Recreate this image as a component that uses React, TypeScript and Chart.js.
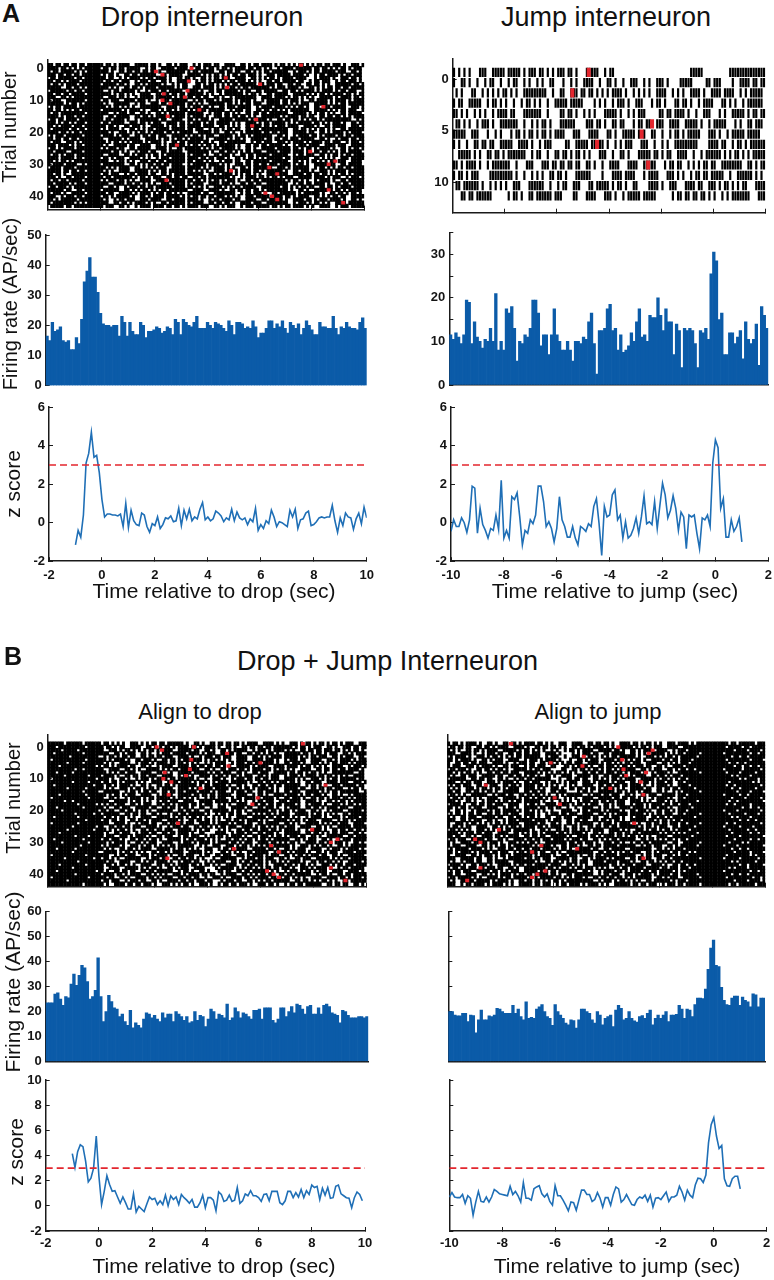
import React, { useEffect, useRef } from "react";
import { Chart, registerables } from "chart.js";

Chart.register(...registerables);

// ---------------- data ----------------
const BIN = 0.1;
const Z_THRESHOLD = 3;

const DROP_TIME_TICKS = [-2, 0, 2, 4, 6, 8, 10];
const JUMP_TIME_TICKS = [-10, -8, -6, -4, -2, 0, 2];
const Z_TICKS_A = [-2, 0, 2, 4, 6];
const Z_TICKS_B = [-2, 0, 2, 4, 6, 8, 10];
const RATE_TICKS_DROP_A = [0, 10, 20, 30, 40, 50];
const RATE_TICKS_JUMP_A = [0, 5, 10, 15, 20, 25, 30, 35];
const RATE_TICKS_B = [0, 10, 20, 30, 40, 50, 60];
const TRIAL_TICKS_DROP = [0, 10, 20, 30, 40];
const TRIAL_TICKS_JUMP = [0, 5, 10];

// firing-rate histograms, 0.1 s bins
const RATE_DROP_A = [
  16.5, 15, 21, 18, 18.5, 19.5, 15, 14.5, 15, 12,
  12, 16, 14, 22, 34.5, 38, 42.5, 36, 36, 31,
  24, 20.5, 20, 20, 19.5, 20, 20, 16.5, 23, 21,
  16.5, 21, 18, 17, 17, 21, 20, 16, 18, 18,
  18.5, 19.5, 19, 17.5, 18, 19.5, 19, 17, 22, 21,
  17, 22, 21, 20, 19.5, 21, 23, 19, 19, 19,
  21, 20, 19, 21, 20.5, 20, 19, 18, 21.5, 20,
  17, 21, 21, 20.5, 19, 19.5, 19, 21.5, 19.5, 16,
  17.5, 17.5, 19, 21.5, 21.5, 19, 20.5, 19.5, 21.5, 19,
  17.5, 21, 20, 19, 20.5, 17, 19, 21.5, 20, 18.5,
  17, 17, 21, 19.5, 19.5, 19, 19, 23, 19, 17,
  19.5, 19, 21, 19.5, 19, 19, 18.5, 21, 22.5, 19,
];
const RATE_JUMP_A = [
  11.5, 10.5, 12, 11, 9.5, 11.5, 19.5, 19, 9.5, 14.5,
  11, 10, 8.5, 10.5, 10, 13, 10, 21, 8, 10,
  8, 17.5, 16.5, 18, 13, 5.5, 10, 9.5, 11.5, 11,
  13, 19.5, 19.5, 16.5, 9, 11.5, 11.5, 7, 11.5, 17.5,
  11.5, 10, 8, 8, 10, 8, 5.5, 10, 10, 9.5,
  11, 10.5, 14.5, 16.5, 9.5, 2.5, 12.5, 12.5, 13, 17.5,
  18.5, 12.5, 13, 8, 11.5, 7.5, 8, 9, 12, 10,
  14.5, 17.5, 11, 11.5, 10, 16, 15.5, 15.5, 20, 16,
  12.5, 17.5, 14.5, 14.5, 7, 14, 12.5, 4, 13, 12.5,
  13, 12.5, 9.5, 4, 12.5, 12, 13, 10.5, 25.5, 30.5,
  28.5, 15, 16.5, 7, 7, 12, 12, 9.5, 11, 12.5,
  6, 14.5, 10.5, 9.5, 10.5, 14, 4.5, 18, 16, 13,
];
const RATE_DROP_B = [
  23.5, 23.5, 23.5, 27, 27.5, 25, 22.5, 26, 25.5, 31,
  35, 30.5, 34.5, 38.5, 37.5, 32, 25, 26, 28.5, 41.5,
  26, 16, 20, 26.5, 24, 21.5, 21, 18, 19, 16,
  14.5, 20.5, 13.5, 15.5, 14.5, 13.5, 17, 19.5, 19, 17.5,
  18.5, 17, 16, 19.5, 17.5, 19, 19, 16, 20, 19,
  18, 16.5, 18, 15.5, 16, 20, 16.5, 18.5, 18, 14,
  17, 21, 20, 17, 19, 18.5, 17.5, 23, 16.5, 17.5,
  21.5, 20, 17.5, 19.5, 19, 18, 17, 20.5, 20.5, 21,
  17, 21.5, 21.5, 21.5, 16.5, 15.5, 17, 21.5, 21.5, 18,
  20, 22, 19.5, 23, 22.5, 21, 19, 22, 22.5, 19,
  19, 21.5, 19, 22.5, 23, 22, 19.5, 19, 18.5, 15.5,
  20.5, 20, 18.5, 17.5, 17.5, 17.5, 18, 18, 17.5, 18,
];
const RATE_JUMP_B = [
  20, 20, 18.6, 18.3, 18.3, 19.3, 19.3, 16, 18.6, 18.4,
  11.5, 16.7, 20.6, 16.7, 16.7, 18.3, 18, 18.6, 21.3, 21,
  20, 19.3, 19.3, 19.3, 22.5, 19.3, 21, 18, 16.7, 23.9,
  17.3, 17.7, 17.3, 21, 21.9, 22.8, 20, 18, 17.3, 14.5,
  22.8, 20, 18.6, 17.3, 15.4, 14.7, 16.7, 16.4, 13.4, 16.7,
  21, 21, 20, 19.3, 16.7, 15.4, 20, 18.6, 14.7, 17.3,
  18, 18.6, 14, 20.6, 22.5, 21.3, 16.7, 17.3, 20, 17.3,
  16.3, 15.8, 18, 18.4, 17.3, 19.3, 20.6, 14.7, 17.3, 18.6,
  17.3, 18.6, 20, 16, 18.6, 18.6, 18.9, 22.5, 21, 17.3,
  21, 20.6, 18, 22.8, 25.4, 25.4, 25.2, 29, 36.9, 45.4,
  48.6, 38.5, 38, 29.7, 24.5, 22.8, 22.5, 25.4, 26.2, 26.2,
  22.5, 25.8, 24.5, 23.9, 21.9, 27.1, 26.7, 21.9, 25.4, 25.4,
];

// z scores, 0.1 s steps
const Z_DROP_A_START = -1.0;
const Z_DROP_A = [
  -1.15, -0.4, -0.75, 0.4, 3.1, 3.6, 4.7, 3.4, 3.5, 2.6, 1.2,
  0.3, 0.45, 0.45, 0.4, 0.4, 0.35, 0.45, -0.2, 1.0, -0.25,
  0.65, 0.1, -0.1, -0.15, 0.5, 0.4, -0.2, -0.5, -0.05, -0.15,
  0.3, -0.3, -0.1, 0.25, 0.2, 0.35, 0.05, 0.1, 0.75, -0.15,
  0.65, 0.2, 0.7, 0.1, 0.3, 0.2, 0.7, 1.05, 0.15, 0.3,
  0.1, 0.2, 0.6, 0.5, 0.35, 0.05, 0.25, 0.15, 0.7, 0.1,
  0.55, 0.25, 0.15, 0.25, -0.1, 0.2, 0.05, 0.75, -0.4, -0.1,
  -0.3, 0.1, -0.05, 0.65, 0.3, -0.2, 0.05, 0.0, -0.1, -0.2,
  0.65, 0.3, 0.7, -0.3, 0.15, 0.2, 0.5, 0.6, -0.15, -0.1,
  0.05, 0.25, 0.3, 0.25, 0.3, 0.3, 0.9, 0.1, -0.5, 0.25,
  -0.15, 0.5, 0.3, 0.25, -0.35, 0.2, 0.5, -0.05, 0.8, 0.25,
];
const Z_JUMP_A_START = -10.0;
const Z_JUMP_A = [
  -0.45, 0.15, -0.2, -0.2, 0.25, 0, -0.5, 0.15, 1.9, 1.8,
  -0.55, 0.75, -0.1, -0.4, -0.8, -0.3, -0.4, 0.4, -0.35, 2.2,
  -0.8, -0.4, -0.8, 1.35, 1.2, 1.55, 0.3, -1.15, -0.4, -0.55,
  0.15, -0.05, 0.4, 1.9, 1.9, 1.1, -0.2, 0.05, -0.3, -1.0,
  -0.3, 1.35, 0.15, -0.2, -0.75, -0.75, -0.2, -0.8, -1.15, -0.2,
  -0.3, -0.45, -0.05, -0.2, 0.85, 1.25, -0.05, -1.7, 0.85, 0.3,
  0.4, 1.45, 1.7, 0.15, 0.4, -0.8, 0.05, -0.8, -0.65, -0.3,
  0.25, -0.55, 0.3, 1.4, -0.05, 0.05, -0.1, 1.1, -0.3, 0.9,
  2.05, 1.45, 0.25, 0.65, 1.4, 0.75, -0.4, 0.55, 0.3, -1.35,
  0.4, 0.3, 0.4, -0.55, -1.35, 0.25, 0.15, 0.4, -0.2, 3.1,
  4.3, 3.9, 0.75, 1.25, -0.75, -0.75, 0.15, -0.45, -0.2, 0.25, -1.0,
];
const Z_DROP_B_START = -1.0;
const Z_DROP_B = [
  4.15, 3.05, 4.3, 4.85, 4.7, 3.55, 1.9, 2.2, 3.0, 5.55, 2.35,
  0.1, 1.15, 2.4, 1.7, 1.15, 1.2, 0.7, 0.2, 0.7, 0.25,
  -0.25, -0.25, 0.95, -0.5, -0.05, -0.25, -0.45, 0.15, 0.7, 0.5,
  0.6, 0.1, 0.4, 0.1, 0.85, 0, 0.8, 0.5, 0.7, 0.1,
  0.9, 0.65, 0.45, 0.2, 0.5, -0.1, -0.1, 0.25, 0.85, -0.15,
  0.65, 0.65, 0.45, -0.4, 1.1, 0.9, 0.35, 0.45, 0.85, 0.35,
  0.45, 1.45, 0.2, 0.4, 0.95, 0.8, 1.2, 0.8, 0.8, 0.65,
  0.35, 0.9, 0.95, 0.4, 1.15, 1.15, 1.15, 0.25, 0.1, 0.4,
  1.15, 1.15, 0.65, 1.05, 0.7, 1.3, 0.65, 1.2, 0.9, 1.65,
  1.45, 1.55, 0.5, 1.4, 0.85, 1.45, 0.6, 0.65, 1.55, 1.65,
  0.95, 0.8, 0.65, 0.6, -0.15, 0.65, 1.1, 0.9, 0.4,
];
const Z_JUMP_B_START = -10.0;
const Z_JUMP_B = [
  0.7, 1.05, 0.7, 0.65, 0.65, 0.9, 0.2, 0.8, 0.6, -0.75,
  0.3, 1.15, 0.35, 0.3, 0.7, 0.3, 0.7, 1.3, 1.15, 0.95,
  0.9, 0.85, 0.8, 1.55, 0.9, 1.15, 0.8, 0.3, 1.85, 0.6,
  0.6, 0.45, 1.35, 1.5, 1.6, 0.95, 0.7, 0.95, 0.35, 0.05,
  1.6, 0.8, 0.8, 0.45, 0.05, -0.4, 0.3, 0.25, -0.35, 0.45,
  1.25, 1.25, 0.9, 0.9, 0.35, 0.5, 1.05, 0.6, -0.1, 0.65,
  0.65, 0.05, 0.9, 1.5, 1.35, 0.3, 0.5, 0.9, 0.5, 0.1,
  0.05, 0.5, 0.7, 0.6, 0.85, 0.35, 0.85, -0.1, 0.6, 0.65,
  0.5, 0.8, 1.1, 0.35, 0.7, 0.7, 0.85, 1.55, 1.1, 0.45,
  1.25, 0.85, 0.65, 1.65, 2.2, 2.15, 1.85, 2.45, 5.0, 6.45,
  7.0, 5.55, 4.55, 4.8, 2.15, 1.6, 1.55, 2.15, 2.35, 2.35, 1.35,
];

// spike rasters: one hex string per trial, each hex digit = four 0.1 s bins
const RASTER_DROP_A_FIRST = -1;
const RASTER_DROP_A = [
  "DB6DFB5E7DA6B95D9E6B7AD5AB6E9D", "F6ABF6DBE59F7AD6B5EDA97BF6D5AE", "B7D5FE9B6DA7F5BE6D9AB7E5D6FB9A",
  "EDB7F5A6DF9BE7D5AB6E9DF7A5BD6E", "6FDBFD95EB7A6D35B9E6AD7BC5E9DA", "DAF7FB6E5D9A7CB5D6EA9B7D96E5BA",
  "B5EFF7DA6BE958D6AB7E5D9B36A7ED", "F9B5FEA6D7BF59DEA6B7F5DE9AB6DF", "7EDBF96FA5DBE7A6DF59BE6D7AF5B9",
  "DB7DFF5A9E6DB7EA5FD69BE7D5AF6B", "E6BFF9DA5F7EB6D9A5FE7BD6A9F5ED", "B9FDF6E7BA5DF96EBD7A5F6E9BD7AF",
  "FD6BFA7E59DBF6A7ED5B9F6AE7D5BF", "5BEFFD6A9FE7B5DA6EF97BD5A6EF9D", "DAB7F7F5E9D6BAF7E5D9B6AFE7D5B9",
  "B7FDFE5D9A6BF7E5DA9B6FE7D5A9BE", "F5DBF9BE6D7AF5E9DB6A7F5ED9B6AF", "6DEFFB7A5FD9E6BA7DF5E9B6AD7FE5",
  "EB5DF6F9DAE7B5D6FA9EB7D5F6AE9B", "D7BBFDA6E9F5B7DE6A9FB5DE7A6F9D", "BF6DF5E9AB7DF6E5AD9B7FE6D5A9BF",
  "F6B7FE9D5AF6BE7D9A5FB6E7D9AF5E", "5DFBF7AE6DB9F5AE7D6BF9A5ED7B6F", "DB6FF9F5E7AD6BE9F5A7DB6EF9A5DB",
  "B9D7FD6AF5E9B7DA6FE5B9D7AF6E5D", "EF5BFA7D9E6BF5AD7E9B6FA5DE7B9F", "6BDFF5D9BE7A6FD5BE9A7DF6B5E9AD",
  "DE7BFF6A5D9BE7FA6D5B9EF7A6D5BE", "B5DFF9E6BAD7F5E9BA6DF7E5B9AD6F", "F7DBF6B9EA5DF7B6E9AD5FB7E6A9DF",
  "D6BFFE5A9DB7F6EA5D9BF7E6AD5B9E", "BDE5F7F9AB6DE5F7A9DB6EF5A7D9BE", "7BDFFD5E6AB9F7D5EA6BF9D7E5AB6F",
  "FB6DFA9E7D5BF6A9ED7B5FA6E9D7BF", "DA7FF6E5BD9AF7E6BD5A9FE7B6D5AF", "E9BDFB7F5AE6D9B7FA5ED6B9F7AE5D",
  "B6FBF5DA9E7BF6D5AE9B7FD6A5E9BF", "DF5DFE7B6A9DF5E7BA6D9FE5B7A6DF", "6EBFF9A5DB7EF6A9D5BE7F6AD9B5EF",
  "FD9BF7E6AD5BF9E7A6DB5FE9A7D6BE", "BA7DFD9F5EB6A7D9FE5BA6FD7E9B5A", "E5DBF6BE9AF7D5B6EA9DF7B5E6AD9F",
  "D7EFFA5B9DE6F7A5BD9E6FA7B5DE9A", "BFD5FE6D7A9BF5E6DA7B9FE5D6A7BF", "7DBFFB9A5EF6D7B9AE5DF6B7A9E5DF",
];
const RASTER_JUMP_A_FIRST = 0;
const RASTER_JUMP_A = [
  "AA39F7D76AED1F2C0000001F003FFF", "9A4B2594A6253C9A4E53A1F06E13DB", "51955A9FF2676D57A553CA9E9EF2BE",
  "B3E5A92D49F7C2A5D38B46D2F1A97E", "D4A97B1FC86D2A3E95C1B7A4E29F5B", "6A5D3F92B47E1DA6C5B39E7D2F8A6E",
  "F9C4A2D6B5E38F1A7D4C96BE3A5F7C", "A4DB3E7A5C19F6D2B8E4A7FC3D96BF", "3EA6D7F2C9B5A8E4D1F6B3C97EAD5F",
  "D7A5FC8E3B6D9A4F1E7C5B2AD9FE6B", "B5C3FE92A6D1F847BC5E3A96DF27EA", "6FD2A9C7E4B38DF5A61E9C7B3AD58F",
  "1B7E05A6FDC31E3A5F7C0B6DA95FC7",
];
const RASTER_DROP_B_FIRST = -1;
const RASTER_DROP_B = [
  "FDFBF6A9D5B7E9A6DB5E7A9D6B5AE7", "EFFDFB59E6AD7B5E9A6DB7F5AE69DB", "FBEFF9D6AB5E7D9A6BE5D7A9B6ED5A",
  "DFFBFE6B9A5DF7AE6D9B5A7ED6B9AF", "FF7FE5AD9B6E7A5DB9E6AF7D5B9AE6", "BFFDFD7A6E9B5FD6A9E7BA5D9E6BD7",
  "FEFBFA9E5D7B6A95E5DB7A6E9D5BAF", "F7FFD6BD9A5E7B6DA9F5E7BD6A9E5D", "FFDBF9E6A7D5BF9A6ED7B5A9E6DB7A",
  "EFBFFD5B9E6A7DF5B9A6E7DB5A9FE6", "FDFEF7A6DB9E5A7AD6B9AE5D7B6A9E", "BFFFDE9A5D6B7E93A5DB6E7A9D5BF6",
  "FFBEF6D7A9E5BD6AF7E9B5DA6E7B9D", "DFFFBB5E9A6D7F5BE9A6DB7E5A9DF6", "FEFDFA9D6B5E7A9DF6B5EA7D9B6E5A",
  "FFFBE7E5AD9B6F7AE5D9BA6E7D5BF9", "F7FDFD6B9E5A7DB6F9E5A7BD6E9A5F", "BFFEF9A5EB7D6A96E5BD7A6E9B5DAF",
  "FDBFFE7D6A5B9E7DF6A5B9DE7A6B5F", "FFEFD5B9AE6D7B5CA9E6DB7A5E9D6B", "EFFBFA6E7D9B5A64E7D9BA5E6D7B9F",
  "FBFFED9B5A7E6D9BF5A7ED6B9A5E7D", "FFDFB7E6D9A5B7E96D9AB5E7D6A9BF", "DFEFFB5A9E7D6B52A9E7DB6A5E9D7B",
  "FFFDF6D9B5E7A6DA9B5EA7D6B9E5AF", "BFEFFE7A5D9B6E7AF5D9BE6A7D5B9E", "FFBFD9B6E7A5D9B56E7AD5B9E6A7DF",
  "FEFFBD5A9B6E7D58A9B6ED7A5E9B6D", "F7FFFA6E5D9B7A61E5D9BA7E6D5B9A", "FFDEFB9D7A6E5B96D7A6EB5D9A7E6F",
  "DFFBF6E9B5A7D6EA9B5AD7E6B9A5DF", "FBFEFD7A6B9E5D7AF6B9ED5A7B6E9A", "FFF7F5E9D6AB7E539D6AB7E9D5A6BF",
  "EFDFFA9B5E7D6A9CB5E7DA6B9E5D7A", "FFBFE7D6A9B5E7D46A9BE5D7A6B9EF", "BFFDFE5B9D7A6E59B9D7AE6B5D9A7E",
  "FDFFB6A7E5D9B6A27E5DB9A6E7D5BF", "FFEFFD9E6B7A5D95E6B7AD5E9B6A7D", "F7FDFB5A9E6D7B5A9E6DA7B5A9D6EF",
  "FFBFF9E7D5A6B9E17D5AB6E9D7A5BE", "EFFFDA6D9B7E5A68D9B7EA5D6B9E7A", "FFDFF7B5E6A9D7B65E6AD9B7E5A6DF",
  "BFFEFD9A7B5E6D93A7B5ED6A9E7B5D", "FEFFF6E5D9A7B6EC5D9AB7E6D5A9BF", "FFFBFA7B6E9D5A74B6E9DA5B7E6D9A",
];
const RASTER_JUMP_B_FIRST = -1;
const RASTER_JUMP_B = [
  "B5E9A6D7B539E6DA7B5A9DEBFFDBF7", "6D9B5E7A6DA9B5EA7D6B9E7FFFBEDF", "A9B5E7D6A94B5E7DA6B9E5DFFFF7BD",
  "E7A5D9B6E7A15D9BE6A7D5BEFF7FDB", "5E9D6AB7E5C9D6AB7E9D5AFDFFEDBF", "D7A6B9E5D7A26B9ED5A7B6F7FFBFDE",
  "9B6E7A5D9B56E7AD5B9E6AEFFFDB7F", "B9D7A6E5B98D7A6EB5D9A7BFFFF6DB", "6E9B5A7D6E19B5AD7E6B9ADBFF7EFD",
  "D5A9B6E7D56A9B6ED7A5E9FEFFBDF7", "A6E7D9B5A69E7D9BA5E6D77FFFEBDF", "7E6D9A5B7E26D9AB5E7D6ADFFFFD7B",
  "E5B9D7A6E5AB9D7AE6B5D9BFFFDFEB", "5B9AE6D7B54A9E6DB7A5E9EFFFB7FD", "A9D6B5E7A9D36B5EA7D9B6FBFFEDF7",
  "D9B5A7E6D9B85A7ED6B9A57EFFFBDE", "6A7E5D9B6A57E5DB9A6E7DDFFF7DBF", "B5A9E7D6B5CA9E7DB6A5E9BFFFEF7D",
  "E9A5D6B7E92A5DB6E7A9D5FDFFDBFE", "7A6DB9E5A79D6B9AE5D7B6EFFFB7DF", "D6B9E5A7DB649E5A7BD6E9F7FFFEDB",
  "9A5EB7D6A91E5BD7A6E9B5DFFF7BFD", "5AD9B6E7A5DB9E6AF7D5B9BEFFDF7B", "A6E7D9B5A66E7D9BA5E6D7FBFFEBDF",
  "E6B9A5DF7AE6D9B5A7ED6B7FFFFDB7", "9D6AB5E7D9A6BE5D7A9B6EDEFFB7FD", "B59E6AD7B5E9A6DB7F5AE6FBFF7DEF",
  "6A9D5B7E9A6DB5E7A9D6B5EFFFDFB7", "F5DB9E6AD7B5E9A6DB7F5ABDFFEFDB", "D9A7B5E6D9FA7B5ED6A9E7F7FFBDFE",
  "6E5D9A7B6EF5D9AB7E6D5ADFFFF7DB", "A7B6E9D5A7FB6E9DA5B7E67EFFDEBF", "B9E6AD7F5E9BA6DF7E5B9AFDFF7BFE",
  "5F7A9DB6EF5A7D9BE7F9ABBFFFEDBF", "D7AF6E5BD9A7FE6D5B9AF6EBFFF7DE", "9E6BAD7F5E9BA6DF7E5B9ADFFFBFD7",
  "E7D9A5FB6E7D9AF5E6D9B7FEFF7DFB", "A5D9BE7FA6D5B9EF7A6D5B7FFFEBF7", "7A6E9F5B7DE6A9FB5DE7A6DBFFFDBE",
  "B6E5D9A7FB5D6EA9B7DF6EEFFFD7BF", "5B9F6AE7D5BF9A5ED7B6FABFFF7FDB", "D9E6AF5B7DA6FE5B9D7AF6FDFFEDBF",
  "6FA9EB7D5F6AE9B6D5F9AE7EFFBFED", "A7DF5E9B6AD7FE5D6A9BF5DFFFF7BD", "E5BD7A9F6E5BD7A9FB6E5DBEFFDBF7",
];

// first-spike (red) markers: [time s, trial]
const RED_DROP_A = [
  [2.1, 1], [2.35, 2], [3.45, 0], [7.6, -1], [4.75, 3], [3.35, 4], [6.05, 5], [4.8, 6], [3.3, 7], [2.4, 8],
  [3.2, 9], [2.35, 10], [2.65, 11], [8.45, 12], [3.75, 13], [2.55, 15], [5.9, 16], [5.75, 18], [2.9, 24],
  [7.95, 26], [8.9, 29], [8.65, 30], [6.4, 31], [4.95, 32], [6.7, 33], [2.5, 35], [8.65, 38], [6.25, 39],
  [6.5, 40], [6.7, 41], [9.2, 42],
];
const RED_DROP_B = [
  [2.1, 0], [2.3, 1], [3.5, 0], [7.6, -1], [4.75, 2], [3.4, 4], [6.0, 5], [4.8, 6], [3.35, 7], [2.4, 8],
  [3.2, 9], [2.35, 10], [2.65, 11], [8.45, 12], [3.75, 13], [2.55, 15], [5.9, 16], [5.7, 18], [2.9, 24],
  [7.95, 26], [8.9, 29], [8.65, 30], [6.4, 31], [5.0, 32], [6.7, 33], [2.5, 35], [8.65, 38], [6.25, 39],
  [6.5, 40], [6.7, 41], [9.2, 42],
];
const RED_JUMP_A = [[-4.78, 0], [-5.41, 2], [-2.35, 5], [-2.75, 6], [-4.46, 7], [-2.5, 9]];
const RED_JUMP_B = [
  [-7.6, -1], [-3.55, 0], [-2.25, 1], [-2.4, 2], [-4.85, 3], [-3.4, 4], [-6.1, 5], [-4.9, 6], [-3.35, 7],
  [-2.5, 8], [-3.25, 9], [-2.7, 11], [-8.55, 12], [-3.85, 13], [-2.6, 15], [-5.95, 16], [-5.75, 18],
  [-2.95, 24], [-8.05, 26], [-8.95, 29], [-8.75, 30], [-6.45, 31], [-5.1, 32], [-6.8, 33], [-2.6, 35],
  [-8.75, 38], [-6.3, 39], [-6.6, 40], [-6.8, 41], [-9.25, 42],
];

// ---------------- styling ----------------
const FONT = "'Liberation Sans', Arial, Helvetica, sans-serif";
const BAR_BLUE = "#0b5ba8";
const LINE_BLUE = "#1f6fb6";
const RED = "#e3262e";
const AXIS = "#1a1a1a";
const JUMP_ROW_LABEL_SHIFT = 0.65;

function rasterPoints(rows: string[], first: number, t0: number) {
  const pts: { x: number; y: number }[] = [];
  rows.forEach((row, r) => {
    for (let c = 0; c < row.length; c++) {
      const v = parseInt(row[c], 16);
      for (let b = 0; b < 4; b++) {
        if (v & (8 >> b)) pts.push({ x: t0 + (c * 4 + b + 0.5) * BIN, y: first + r });
      }
    }
  });
  return pts;
}
const pairs = (list: number[][]) => list.map(([x, y]) => ({ x, y }));
const series = (vals: number[], t0: number) =>
  vals.map((y, i) => ({ x: Math.round((t0 + i * BIN) * 1000) / 1000, y }));

function linAxis(o: any) {
  return {
    type: "linear",
    min: o.min,
    max: o.max,
    reverse: !!o.reverse,
    afterBuildTicks: (s: any) => {
      s.ticks = o.ticks.map((v: number) => ({ value: v }));
    },
    ticks: {
      display: !!o.label,
      callback: (v: any) => (o.label ? o.label(Number(v)) : ""),
      font: { family: FONT, size: 13, weight: "bold" },
      color: "#141414",
      padding: o.pad ?? 8,
      autoSkip: false,
      maxRotation: 0,
      minRotation: 0,
    },
    grid: {
      display: o.marks !== false,
      drawOnChartArea: false,
      drawTicks: true,
      tickLength: -4,
      color: AXIS,
      lineWidth: 1,
    },
    border: { display: o.border !== false, color: AXIS, width: 1.5 },
  };
}
function catAxis(border: boolean) {
  return {
    type: "category",
    offset: true,
    ticks: { display: false },
    grid: { display: false },
    border: { display: border, color: AXIS, width: 1.5 },
  };
}

function rasterChart(p: any) {
  const r = p.rowPx / 2;
  return {
    type: "scatter",
    data: {
      datasets: [
        {
          data: pairs(p.red),
          pointStyle: "line",
          pointRotation: 90,
          pointRadius: p.redPx / 2,
          pointHoverRadius: p.redPx / 2,
          pointBorderWidth: p.redW,
          pointBorderColor: RED,
          pointBackgroundColor: RED,
        },
        {
          data: rasterPoints(p.rows, p.first, p.t0),
          pointStyle: "line",
          pointRotation: 90,
          pointRadius: r,
          pointHoverRadius: r,
          pointBorderWidth: p.binPx,
          pointBorderColor: "#000",
          pointBackgroundColor: "#000",
        },
      ],
    },
    options: {
      scales: {
        x: linAxis({ min: p.xMin, max: p.xMax, ticks: p.xTicks }),
        y: linAxis({
          min: p.yMin,
          max: p.yMax,
          reverse: true,
          ticks: p.yTicks,
          label: p.yLabel,
          marks: p.yMarks,
        }),
      },
    },
  };
}

function histChart(vals: number[], t0: number, yMax: number, yTicks: number[], yLabel: any, baseline: boolean) {
  return {
    type: "bar",
    data: {
      labels: vals.map((_, i) => (t0 + i * BIN).toFixed(1)),
      datasets: [
        {
          data: vals,
          backgroundColor: BAR_BLUE,
          borderWidth: 0,
          barPercentage: 1,
          categoryPercentage: 1,
        },
      ],
    },
    options: {
      scales: {
        x: catAxis(baseline),
        y: linAxis({ min: 0, max: yMax, ticks: yTicks, label: yLabel }),
      },
    },
  };
}

function zChart(vals: number[], start: number, xMin: number, xMax: number, xTicks: number[], yMax: number, yTicks: number[], yLabel: any, xPad: number) {
  return {
    type: "scatter",
    data: {
      datasets: [
        {
          data: [
            { x: xMin, y: Z_THRESHOLD },
            { x: xMax, y: Z_THRESHOLD },
          ],
          showLine: true,
          borderColor: RED,
          borderWidth: 1.6,
          borderDash: [7, 4],
          pointRadius: 0,
          pointHoverRadius: 0,
        },
        {
          data: series(vals, start),
          showLine: true,
          borderColor: LINE_BLUE,
          borderWidth: 1.6,
          pointRadius: 0,
          pointHoverRadius: 0,
          tension: 0,
        },
      ],
    },
    options: {
      scales: {
        x: linAxis({ min: xMin, max: xMax, ticks: xTicks, label: String, pad: xPad }),
        y: linAxis({ min: -2, max: yMax, ticks: yTicks, label: yLabel }),
      },
    },
  };
}

type Geo = { l: number; t: number; r: number; b: number };

function Panel({ geo, make, ml = 44, mr = 14, mt = 10, mb = 12 }: { geo: Geo; make: () => any; ml?: number; mr?: number; mt?: number; mb?: number }) {
  const ref = useRef<HTMLCanvasElement | null>(null);
  const left = Math.floor(geo.l) - ml;
  const top = Math.floor(geo.t) - mt;
  const width = Math.min(774, Math.ceil(geo.r) + mr) - left;
  const height = Math.ceil(geo.b) + mb - top;
  useEffect(() => {
    const cfg = make();
    cfg.options = cfg.options || {};
    Object.assign(cfg.options, {
      animation: false,
      responsive: false,
      devicePixelRatio: 1,
      events: [],
      plugins: { legend: { display: false }, tooltip: { enabled: false } },
      layout: { padding: { left: 0, top: geo.t - top, right: left + width - geo.r, bottom: 0 } },
    });
    cfg.options.scales.x.afterFit = (s: any) => {
      s.height = top + height - geo.b;
      s.paddingLeft = 0;
      s.paddingRight = 0;
    };
    cfg.options.scales.y.afterFit = (s: any) => {
      s.width = geo.l - left;
      s.paddingTop = 0;
      s.paddingBottom = 0;
    };
    const chart = new Chart(ref.current as HTMLCanvasElement, cfg);
    return () => chart.destroy();
  }, []);
  return (
    <canvas
      ref={ref}
      width={width}
      height={height}
      style={{ position: "absolute", left, top, width, height }}
    />
  );
}

function HText({ text, cx, base, size, bold = false, sx = 1, align = "center" }: any) {
  const tr = align === "center" ? `translateX(-50%) scaleX(${sx})` : `scaleX(${sx})`;
  return (
    <div
      style={{
        position: "absolute",
        left: cx,
        top: base - 0.8465 * size,
        transform: tr,
        transformOrigin: align === "center" ? "center" : "left",
        fontFamily: FONT,
        fontSize: size,
        fontWeight: bold ? 700 : 400,
        lineHeight: 1,
        whiteSpace: "nowrap",
        color: "#111",
      }}
    >
      {text}
    </div>
  );
}
function VText({ text, cx, cy, size }: any) {
  return (
    <div
      style={{
        position: "absolute",
        left: cx,
        top: cy,
        transform: "translate(-50%,-50%) rotate(-90deg)",
        fontFamily: FONT,
        fontSize: size,
        lineHeight: 1,
        whiteSpace: "nowrap",
        color: "#111",
      }}
    >
      {text}
    </div>
  );
}

const str = (v: number) => String(v);

export default function App() {
  return (
    <div style={{ position: "absolute", left: 0, top: 0, width: 774, height: 1280, background: "#fff", overflow: "hidden" }}>
      {/* ---- A left ---- */}
      <Panel
        geo={{ l: 47.7, t: 60, r: 364.3, b: 209.5 }}
        make={() =>
          rasterChart({
            rows: RASTER_DROP_A, first: RASTER_DROP_A_FIRST, t0: -2, red: RED_DROP_A,
            xMin: -2, xMax: 10, xTicks: DROP_TIME_TICKS,
            yMin: -2.59, yMax: 44.12, yTicks: TRIAL_TICKS_DROP, yLabel: str,
            rowPx: 4.4, binPx: 3.0, redW: 4, redPx: 3.4,
          })
        }
      />
      <Panel geo={{ l: 45.7, t: 235, r: 366.7, b: 385.7 }} make={() => histChart(RATE_DROP_A, -2, 50, RATE_TICKS_DROP_A, str, false)} />
      <Panel
        geo={{ l: 49, t: 407.2, r: 366.7, b: 561.2 }}
        mb={30}
        make={() => zChart(Z_DROP_A, Z_DROP_A_START, -2, 10, DROP_TIME_TICKS, 6, Z_TICKS_A, str, 10)}
      />
      {/* ---- A right ---- */}
      <Panel
        geo={{ l: 452.7, t: 58.3, r: 768.3, b: 212.7 }}
        mr={5}
        make={() =>
          rasterChart({
            rows: RASTER_JUMP_A, first: RASTER_JUMP_A_FIRST, t0: -10, red: RED_JUMP_A,
            xMin: -10, xMax: 2, xTicks: JUMP_TIME_TICKS,
            yMin: -1.36, yMax: 13.63,
            yTicks: TRIAL_TICKS_JUMP.map((v) => v + JUMP_ROW_LABEL_SHIFT),
            yLabel: (v: number) => String(Math.round(v - JUMP_ROW_LABEL_SHIFT)),
            rowPx: 9.2, binPx: 2.2, redW: 4, redPx: 9.2,
          })
        }
      />
      <Panel
        geo={{ l: 449.3, t: 232.5, r: 768.3, b: 385 }}
        mr={5}
        make={() => histChart(RATE_JUMP_A, -10, 35, RATE_TICKS_JUMP_A, (v: number) => (v % 10 === 0 ? String(v) : ""), true)}
      />
      <Panel
        geo={{ l: 451, t: 407.2, r: 768.3, b: 561.2 }}
        mr={5}
        mb={30}
        make={() => zChart(Z_JUMP_A, Z_JUMP_A_START, -10, 2, JUMP_TIME_TICKS, 6, Z_TICKS_A, str, 10)}
      />
      {/* ---- B left ---- */}
      <Panel
        geo={{ l: 47.7, t: 735, r: 366.7, b: 886.7 }}
        make={() =>
          rasterChart({
            rows: RASTER_DROP_B, first: RASTER_DROP_B_FIRST, t0: -2, red: RED_DROP_B,
            xMin: -2, xMax: 10, xTicks: DROP_TIME_TICKS,
            yMin: -3.77, yMax: 43.93, yTicks: TRIAL_TICKS_DROP, yLabel: str,
            rowPx: 4.4, binPx: 3.0, redW: 4, redPx: 3.4,
          })
        }
      />
      <Panel geo={{ l: 45.7, t: 911.7, r: 368.3, b: 1061.5 }} make={() => histChart(RATE_DROP_B, -2, 60, RATE_TICKS_B, str, true)} />
      <Panel
        geo={{ l: 45.7, t: 1080, r: 365, b: 1231 }}
        mb={30}
        make={() => zChart(Z_DROP_B, Z_DROP_B_START, -2, 10, DROP_TIME_TICKS, 10, Z_TICKS_B, str, 9)}
      />
      {/* ---- B right ---- */}
      <Panel
        geo={{ l: 447.3, t: 735, r: 766, b: 886.7 }}
        mr={5}
        make={() =>
          rasterChart({
            rows: RASTER_JUMP_B, first: RASTER_JUMP_B_FIRST, t0: -10, red: RED_JUMP_B,
            xMin: -10, xMax: 2, xTicks: JUMP_TIME_TICKS,
            yMin: -3.77, yMax: 43.93, yTicks: TRIAL_TICKS_DROP, yMarks: false,
            rowPx: 4.4, binPx: 3.0, redW: 4, redPx: 3.4,
          })
        }
      />
      <Panel geo={{ l: 448.3, t: 911.7, r: 765, b: 1061.5 }} mr={5} make={() => histChart(RATE_JUMP_B, -10, 60, RATE_TICKS_B, null, true)} />
      <Panel
        geo={{ l: 449.3, t: 1080, r: 766.7, b: 1231 }}
        mr={5}
        mb={30}
        make={() => zChart(Z_JUMP_B, Z_JUMP_B_START, -10, 2, JUMP_TIME_TICKS, 10, Z_TICKS_B, null, 9)}
      />

      {/* ---- text ---- */}
      <HText text="A" cx={2} base={21.7} size={25} bold align="left" />
      <HText text="Drop interneuron" cx={202} base={26.7} size={27} />
      <HText text="Jump interneuron" cx={606} base={26.7} size={27} />
      <VText text="Trial number" cx={9} cy={126.5} size={20} />
      <VText text="Firing rate (AP/sec)" cx={10} cy={304} size={20} />
      <VText text="z score" cx={11.5} cy={484} size={21} />
      <HText text="Time relative to drop (sec)" cx={214} base={598} size={21} />
      <HText text="Time relative to jump (sec)" cx={615} base={598} size={21} />

      <HText text="B" cx={4} base={665} size={25} bold align="left" />
      <HText text="Drop + Jump Interneuron" cx={387.5} base={671} size={27} />
      <HText text="Align to drop" cx={200} base={720} size={22} />
      <HText text="Align to jump" cx={598} base={720} size={22} />
      <VText text="Trial number" cx={12.5} cy={798} size={20} />
      <VText text="Firing rate (AP/sec)" cx={12} cy={982} size={21} />
      <VText text="z score" cx={15} cy={1152} size={21} />
      <HText text="Time relative to drop (sec)" cx={214} base={1273} size={21} />
      <HText text="Time relative to jump (sec)" cx={617} base={1273} size={21} />
    </div>
  );
}
